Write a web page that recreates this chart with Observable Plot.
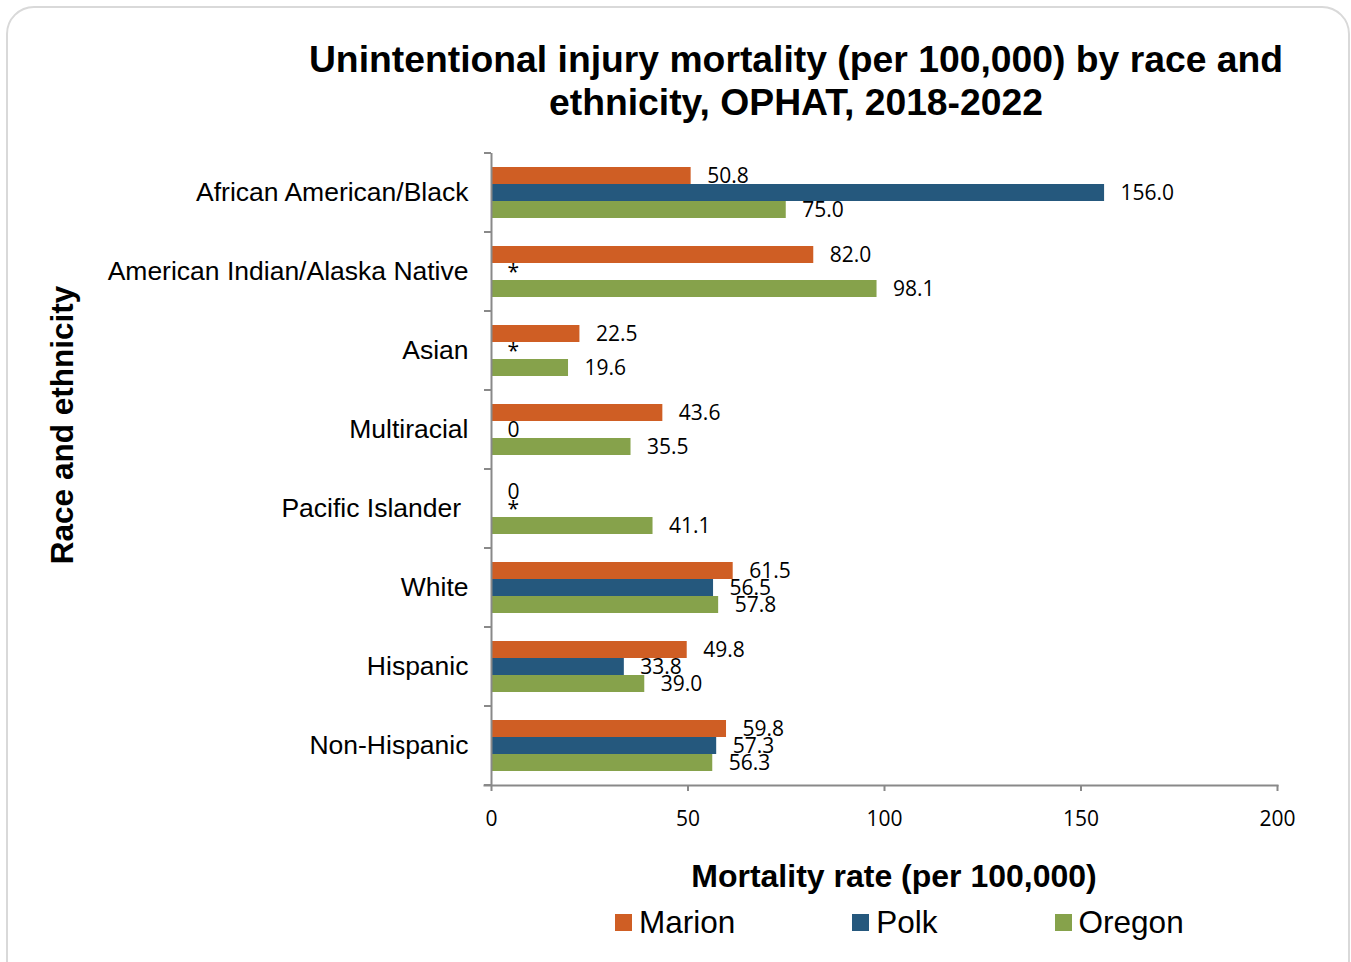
<!DOCTYPE html>
<html>
<head>
<meta charset="utf-8">
<script src="https://cdn.jsdelivr.net/npm/d3@7"></script>
<script src="https://cdn.jsdelivr.net/npm/@observablehq/plot@0.6"></script>
<style>
  body { margin: 0; background: #fff; }
  #wrap { position: relative; width: 1351px; height: 962px; overflow: hidden; font-family: "Liberation Sans", Arial, sans-serif; color: #000; }
  #border { position: absolute; left: 6px; top: 6px; width: 1344px; height: 990px; border: 2px solid #d9d9d9; border-radius: 28px; box-sizing: border-box; }
  #chart { position: absolute; left: 0; top: 0; }
  #title { position: absolute; left: 296px; width: 1000px; top: 38px; text-align: center; font-weight: bold; font-size: 37.3px; line-height: 43px; }
  #xtitle { position: absolute; left: 594px; width: 600px; top: 856px; text-align: center; font-weight: bold; font-size: 32px; line-height: 40px; }
  #ytitle { position: absolute; left: -138px; width: 400px; top: 405px; height: 40px; text-align: center; font-weight: bold; font-size: 31.5px; line-height: 40px; transform: rotate(-90deg); transform-origin: 50% 50%; }
  #legend { position: absolute; left: 615px; top: 902px; display: flex; gap: 117px; font-size: 31.5px; line-height: 40px; }
  .item { display: flex; align-items: center; }
  .sw { width: 17px; height: 17px; margin-right: 7px; }
</style>
</head>
<body>
<div id="wrap">
  <div id="border"></div>
  <div id="chart"></div>
  <div id="title">Unintentional injury mortality (per 100,000) by race and<br>ethnicity, OPHAT, 2018-2022</div>
  <div id="ytitle">Race and ethnicity</div>
  <div id="xtitle">Mortality rate (per 100,000)</div>
  <div id="legend"></div>
</div>
<script>
const categories = ["African American/Black", "American Indian/Alaska Native", "Asian", "Multiracial", "Pacific Islander ", "White", "Hispanic", "Non-Hispanic"];
const seriesNames = ["Marion", "Polk", "Oregon"];
// null = suppressed value, shown as "*"
const marion = [50.8, 82.0, 22.5, 43.6, 0, 61.5, 49.8, 59.8];
const polk = [156.0, null, null, 0, null, 56.5, 33.8, 57.3];
const oregon = [75.0, 98.1, 19.6, 35.5, 41.1, 57.8, 39.0, 56.3];
const seriesColors = ["#cf5e24", "#25587d", "#86a24b"];
const xTicks = [0, 50, 100, 150, 200];

const seriesValues = [marion, polk, oregon];
const rows = categories.flatMap((c, i) => seriesNames.map((s, k) => {
  const v = seriesValues[k][i];
  return {category: c, series: s, value: v, label: v == null ? "*" : v === 0 ? "0" : v.toFixed(1)};
}));

const axisColor = "#898989";

function boundaryTicks(index, scales, values, dimensions) {
  const {marginTop, marginBottom, height} = dimensions;
  const x0 = scales.x(0);
  const g = d3.create("svg:g").attr("stroke", axisColor).attr("stroke-width", 2);
  for (const y of [marginTop, height - marginBottom]) {
    g.append("line").attr("x1", x0 - 7).attr("x2", x0).attr("y1", y).attr("y2", y);
  }
  return g.node();
}

const chart = Plot.plot({
  width: 1351,
  height: 962,
  marginTop: 149,
  marginBottom: 174,
  marginLeft: 491,
  marginRight: 74,
  style: {fontFamily: "'Open Sans', sans-serif", background: "transparent", color: "#000", overflow: "visible"},
  facet: {data: rows, y: "category"},
  fy: {domain: categories, padding: 0},
  y: {domain: seriesNames, paddingInner: 0, paddingOuter: 0.75, axis: null},
  x: {domain: [0, 200]},
  color: {domain: seriesNames, range: seriesColors},
  marks: [
    Plot.barX(rows, {filter: d => d.value != null, y: "series", x: "value", fill: "series"}),
    Plot.text(rows, {y: "series", x: d => d.value ?? 0, text: "label", dx: 16, textAnchor: "start", fontSize: 21, fill: "#000"}),
    Plot.ruleX([0], {stroke: axisColor, strokeWidth: 2}),
    boundaryTicks,
    Plot.frame({anchor: "bottom", facetAnchor: "bottom", stroke: axisColor, strokeWidth: 2, insetLeft: -7}),
    Plot.axisX({ticks: xTicks, tickSize: 6, tickPadding: 20, fontSize: 21, label: null, stroke: axisColor, strokeWidth: 2, fill: "#000"}),
    Plot.axisFy({anchor: "left", tickSize: 0, tickPadding: 23, fontSize: 26.5, fontFamily: "'Liberation Sans', Arial, sans-serif", label: null, fill: "#000",
      tickFormat: d => d.replace(/ $/, "\u00a0")})
  ]
});
document.getElementById("chart").append(chart);

const legend = document.getElementById("legend");
seriesNames.forEach((s, k) => {
  const item = document.createElement("div");
  item.className = "item";
  const sw = document.createElement("span");
  sw.className = "sw";
  sw.style.background = seriesColors[k];
  const t = document.createElement("span");
  t.textContent = s;
  item.append(sw, t);
  legend.append(item);
});
</script>
</body>
</html>
